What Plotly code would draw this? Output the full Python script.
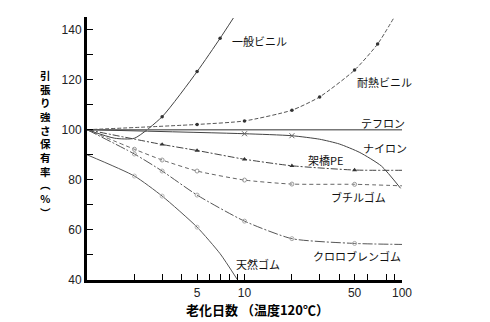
import plotly.graph_objects as go

# ---- data ----
days_general_vinyl = [1, 1.5, 2, 3, 5, 7, 8.5]
general_vinyl = [100, 96.6, 96.6, 105.2, 123.2, 136.5, 144.6]

days_heat_vinyl = [1, 5, 10, 20, 30, 50, 70, 90]
heat_vinyl = [100, 102.1, 103.5, 107.8, 113.1, 123.8, 134.2, 145.3]

days_teflon = [1, 100]
teflon = [100, 100]

days_nylon = [1, 10, 20, 30, 40, 54, 74, 98]
nylon = [100, 98.4, 97.6, 96.2, 94.3, 90.9, 85.5, 76.6]

days_pe = [1, 3, 5, 10, 20, 50, 100]
pe = [100, 94.1, 91.7, 88.2, 85.6, 83.9, 83.8]

days_butyl = [1, 2, 3, 5, 10, 20, 50, 100]
butyl = [100, 92.2, 87.9, 83.5, 79.9, 78.3, 78.2, 77.6]

days_chloroprene = [1, 2, 3, 5, 10, 20, 50, 100]
chloroprene = [100, 90.3, 83.5, 73.9, 63.5, 56.5, 54.6, 54.2]

days_natural = [1, 2, 3, 5, 7, 9]
natural = [90, 81.5, 73.5, 61.1, 50.5, 40.2]

x_tickvals = [2, 3, 4, 5, 6, 7, 8, 9, 10, 20, 30, 40, 50, 60, 80, 90, 100]
x_ticktext = ['', '', '', '5', '', '', '', '', '10', '', '', '', '50', '', '', '', '100']
y_tickvals = [40, 50, 60, 70, 80, 90, 100, 110, 120, 130, 140]
y_ticktext = ['40', '', '60', '', '80', '', '100', '', '120', '', '140']

labels = ['一般ビニル', '耐熱ビニル', 'テフロン', 'ナイロン', '架橋PE', 'ブチルゴム', 'クロロブレンゴム', '天然ゴム']
y_title_chars = ['引', '張', 'り', '強', 'さ', '保', '有', '率', '︵', '%', '︶']
x_title = '老化日数 （温度120℃）'

# ---- layout geometry ----
WIDTH, HEIGHT = 490, 322
ML, MR, MT, MB = 87, 88, 17, 42
PW = WIDTH - ML - MR
PH = HEIGHT - MT - MB
BOTTOM = HEIGHT - MB


def P(px, py):
    return dict(x=(px - ML) / PW, y=(BOTTOM - py) / PH, xref='paper', yref='paper')


fig = go.Figure()

series = [
    (days_general_vinyl, general_vinyl, dict(color='#444', width=1, dash='solid'),
     dict(symbol='circle', size=3.5, color='#333'), [3, 4, 5]),
    (days_heat_vinyl, heat_vinyl, dict(color='#555', width=1, dash='4px,2px'),
     dict(symbol='circle', size=3.5, color='#333'), [1, 2, 3, 4, 5, 6]),
    (days_teflon, teflon, dict(color='#777', width=1.6, dash='solid'), None, []),
    (days_nylon, nylon, dict(color='#444', width=1, dash='solid'),
     dict(symbol='x-thin-open', size=5, color='#666', line=dict(width=1, color='#666')), [1, 2]),
    (days_pe, pe, dict(color='#444', width=1, dash='7px,2px,2px,2px'),
     dict(symbol='triangle-up', size=4.5, color='#333'), [1, 2, 3, 4, 5]),
    (days_butyl, butyl, dict(color='#666', width=1, dash='4px,3px'),
     dict(symbol='circle-open', size=4, color='#999'), [1, 2, 3, 4, 5, 6]),
    (days_chloroprene, chloroprene, dict(color='#555', width=1, dash='10px,2px,2px,2px'),
     dict(symbol='circle-open', size=4, color='#aaa'), [1, 2, 3, 4, 5, 6]),
    (days_natural, natural, dict(color='#555', width=1, dash='solid'),
     dict(symbol='circle-open', size=4, color='#bbb'), [1, 2, 3]),
]

for xs, ys, line, marker, midx in series:
    fig.add_trace(go.Scatter(x=xs, y=ys, mode='lines', line=dict(shape='spline', smoothing=0.6, **line),
                             showlegend=False, hoverinfo='skip'))
    if marker and midx:
        fig.add_trace(go.Scatter(x=[xs[i] for i in midx], y=[ys[i] for i in midx], mode='markers',
                                 marker=marker, showlegend=False, hoverinfo='skip'))

label_font = dict(family='Noto Sans CJK JP', size=11, color='#111')
label_pos = [(259, 41), (384, 82), (383, 123), (385, 148), (325, 160), (358, 197), (357, 256), (258, 264)]
annotations = []
for text, (px, py) in zip(labels, label_pos):
    annotations.append(dict(text=text, showarrow=False, font=label_font, xanchor='center', yanchor='middle', **P(px, py)))

# vertical (upright, stacked) y-axis title as one multi-line text
annotations.append(dict(text='<b>' + '<br>'.join(y_title_chars) + '</b>', showarrow=False,
                        font=dict(family='Noto Sans CJK JP', size=10.5, color='#000'),
                        xanchor='center', yanchor='middle', align='center', borderpad=0, **P(45, 144)))

annotations.append(dict(text='<b>' + x_title + '</b>', showarrow=False,
                        font=dict(family='Noto Sans CJK JP', size=13, color='#000'),
                        xanchor='center', yanchor='middle', borderpad=0, **P(257, 309)))

fig.update_layout(
    width=WIDTH, height=HEIGHT,
    margin=dict(l=ML, r=MR, t=MT, b=MB, pad=0),
    paper_bgcolor='white', plot_bgcolor='white',
    annotations=annotations,
    xaxis=dict(type='log', range=[0, 2], showgrid=False, zeroline=False,
               showline=True, linecolor='black', linewidth=3,
               ticks='inside', ticklen=6, tickwidth=1.3, tickcolor='black',
               tickvals=x_tickvals, ticktext=x_ticktext,
               tickfont=dict(family='Liberation Sans', size=12, color='#222')),
    yaxis=dict(range=[40, 145], showgrid=False, zeroline=False,
               showline=True, linecolor='black', linewidth=3,
               ticks='inside', ticklen=6, tickwidth=1.3, tickcolor='black',
               tickvals=y_tickvals, ticktext=y_ticktext,
               tickfont=dict(family='Liberation Sans', size=12, color='#222')),
)

fig.write_html('out.html')
